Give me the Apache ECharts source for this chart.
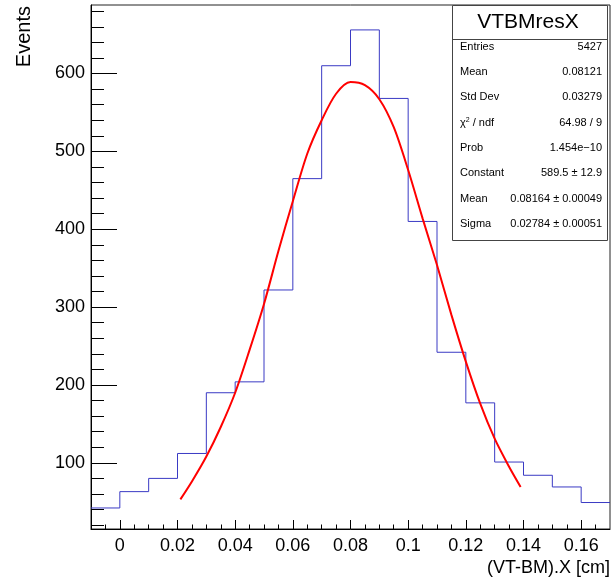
<!DOCTYPE html>
<html>
<head>
<meta charset="utf-8">
<script src="https://cdn.jsdelivr.net/npm/echarts@6/dist/echarts.min.js"></script>
<style>html,body{margin:0;padding:0;background:#fff;}#c{width:611px;height:579px;}</style>
</head>
<body>
<div id="c"></div>
<script>
// Histogram bins: left edges and contents
const binEdges = [-0.01,0,0.01,0.02,0.03,0.04,0.05,0.06,0.07,0.08,0.09,0.10,0.11,0.12,0.13,0.14,0.15,0.16,0.17];
const counts = [42,63,80,112,190,204,322,465,610,656,568,410,242,177,101,84,69,49];
// Fit curve points
const fitX = [0.021,0.025,0.030,0.035,0.040,0.045,0.050,0.055,0.060,0.065,0.070,0.075,0.080,0.085,0.090,0.095,0.100,0.105,0.110,0.115,0.120,0.125,0.130,0.135,0.139];
const fitY = [53,76,108,146,190,245,304,372,436,497,540,574,589,585,567,531,476,414,354,290,230,176,131,95,69];
// Tick values / labels
const xMajor = [0,0.02,0.04,0.06,0.08,0.1,0.12,0.14,0.16];
const xLabels = ['0','0.02','0.04','0.06','0.08','0.1','0.12','0.14','0.16'];
const xMinor = [-0.005,0,0.005,0.01,0.015,0.02,0.025,0.03,0.035,0.04,0.045,0.05,0.055,0.06,0.065,0.07,0.075,0.08,0.085,0.09,0.095,0.1,0.105,0.11,0.115,0.12,0.125,0.13,0.135,0.14,0.145,0.15,0.155,0.16,0.165];
const yMajor = [100,200,300,400,500,600];
const yMinor = [20,40,60,80,120,140,160,180,220,240,260,280,320,340,360,380,420,440,460,480,520,540,560,580,620,640,660,680];
// Stats box
const statTitle = 'VTBMresX';
const statLabels = ['Entries','Mean','Std Dev','chi','Prob','Constant','Mean','Sigma'];
const statValues = ['5427','0.08121','0.03279','64.98 / 9','1.454e\u221210','589.5 \u00b1 12.9','0.08164 \u00b1 0.00049','0.02784 \u00b1 0.00051'];

const histData = counts.map((v,i)=>[binEdges[i], v]);
histData.push([binEdges[binEdges.length-1], counts[counts.length-1]]);
const fitData = fitX.map((x,i)=>[x, fitY[i]]);

const FONT = 'Liberation Sans, Arial, Helvetica, sans-serif';
const chart = echarts.init(document.getElementById('c'), null, {renderer:'canvas'});

const graphics = [];
graphics.push({type:'rect', shape:{x:452.5,y:5.5,width:155,height:235}, style:{fill:'#fff',stroke:'#444',lineWidth:1}, z:100});
graphics.push({type:'line', shape:{x1:452.5,y1:39.5,x2:607.5,y2:39.5}, style:{stroke:'#444',lineWidth:1}, z:101});
graphics.push({type:'text', x:528, y:22, style:{text:statTitle, font:'21px '+FONT, fill:'#000', align:'center', verticalAlign:'middle'}, z:102});
statLabels.forEach((lab,i)=>{
  const y = 46.8 + 25.3*i;
  if (lab === 'chi') {
    graphics.push({type:'text', x:460, y:y, style:{text:'\u03c7{s|2} / ndf', font:'11px '+FONT, fill:'#000', align:'left', verticalAlign:'middle', rich:{s:{fontSize:7, fontFamily:FONT, verticalAlign:'top', padding:[0,0,6,0]}}}, z:102});
  } else {
    graphics.push({type:'text', x:460, y:y, style:{text:lab, font:'11px '+FONT, fill:'#000', align:'left', verticalAlign:'middle'}, z:102});
  }
  graphics.push({type:'text', x:602, y:y, style:{text:statValues[i], font:'11px '+FONT, fill:'#000', align:'right', verticalAlign:'middle'}, z:102});
});
graphics.push({type:'text', x:610, y:568, style:{text:'(VT-BM).X [cm]', font:'18px '+FONT, fill:'#000', align:'right', verticalAlign:'middle'}, z:102});
graphics.push({type:'text', x:24.5, y:6, rotation:Math.PI/2, style:{text:'Events', font:'20px '+FONT, fill:'#000', align:'right', verticalAlign:'middle'}, z:102});

const option = {
  animation:false,
  backgroundColor:'#fff',
  grid:{left:91, right:1, top:5, bottom:50, show:true, borderColor:'#222', borderWidth:1, backgroundColor:'transparent'},
  xAxis:[
    {type:'value', min:-0.01, max:0.17, position:'bottom',
     axisLine:{show:true, onZero:false, lineStyle:{color:'#000', width:1}},
     axisTick:{show:true, inside:true, length:9, customValues:xMajor, lineStyle:{color:'#000'}},
     axisLabel:{show:true, customValues:xMajor, margin:8, color:'#000', fontSize:18, fontFamily:FONT,
       formatter:(v)=>{const i=xMajor.findIndex(t=>Math.abs(t-v)<1e-9); return i>=0?xLabels[i]:'';}},
     splitLine:{show:false}},
    {type:'value', min:-0.01, max:0.17, position:'bottom',
     axisLine:{show:false, onZero:false},
     axisTick:{show:true, inside:true, length:4.5, customValues:xMinor, lineStyle:{color:'#000'}},
     axisLabel:{show:false}, splitLine:{show:false}}
  ],
  yAxis:[
    {type:'value', min:15, max:688, position:'left',
     axisLine:{show:true, onZero:false, lineStyle:{color:'#000', width:1}},
     axisTick:{show:true, inside:true, length:26, customValues:yMajor, lineStyle:{color:'#000'}},
     axisLabel:{show:true, customValues:yMajor, margin:6, color:'#000', fontSize:18, fontFamily:FONT},
     splitLine:{show:false}},
    {type:'value', min:15, max:688, position:'left',
     axisLine:{show:false, onZero:false},
     axisTick:{show:true, inside:true, length:13, customValues:yMinor, lineStyle:{color:'#000'}},
     axisLabel:{show:false}, splitLine:{show:false}}
  ],
  series:[
    {type:'line', name:'hist', step:'end', data:histData, xAxisIndex:0, yAxisIndex:0, symbol:'none',
     lineStyle:{color:'#3a3ac4', width:1}, z:3},
    {type:'line', name:'fit', data:fitData, xAxisIndex:0, yAxisIndex:0, symbol:'none', smooth:0.3,
     lineStyle:{color:'#ff0000', width:2}, z:4}
  ],
  graphic:graphics
};
chart.setOption(option);
</script>
</body>
</html>
